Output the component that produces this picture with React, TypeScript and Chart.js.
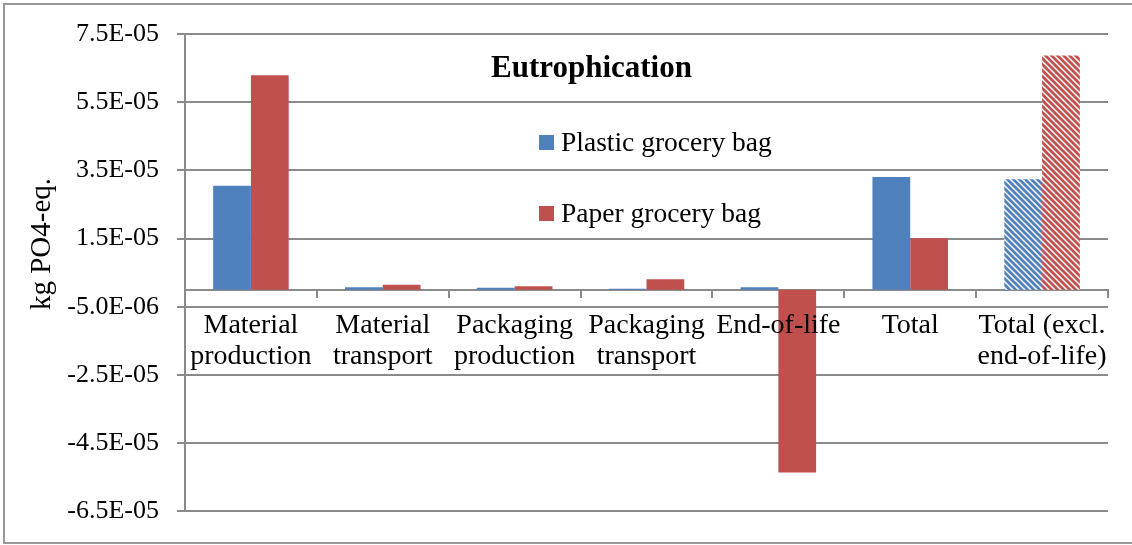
import React, { useEffect, useRef } from 'react';
import { Chart, registerables } from 'chart.js';

Chart.register(...registerables);

// ---- data ----
const categories: string[][] = [
  ['Material', 'production'],
  ['Material', 'transport'],
  ['Packaging', 'production'],
  ['Packaging', 'transport'],
  ['End-of-life'],
  ['Total'],
  ['Total (excl.', 'end-of-life)'],
];
const seriesNames: string[] = ['Plastic grocery bag', 'Paper grocery bag'];
const plasticValues: number[] = [3.05e-5, 7.5e-7, 5.5e-7, 3e-7, 7.5e-7, 3.31e-5, 3.24e-5];
const paperValues: number[] = [6.29e-5, 1.5e-6, 1.05e-6, 3.1e-6, -5.36e-5, 1.51e-5, 6.87e-5];
const yTickValues: number[] = [-6.5e-5, -4.5e-5, -2.5e-5, -5e-6, 1.5e-5, 3.5e-5, 5.5e-5, 7.5e-5];
const yTickLabels: string[] = ['-6.5E-05', '-4.5E-05', '-2.5E-05', '-5.0E-06', '1.5E-05', '3.5E-05', '5.5E-05', '7.5E-05'];
const chartTitle = 'Eutrophication';
const yAxisTitle = 'kg PO4-eq.';
const hatchedFlags: boolean[] = [false, false, false, false, false, false, true];

// ---- style ----
const FONT = "'Liberation Serif', 'Times New Roman', serif";
const BLUE = '#4F81BD';
const RED = '#C0504D';
const GRID = '#8a8a8a';
const seriesColors = [BLUE, RED];

function makeHatch(color: string): CanvasPattern | string {
  const size = 12;
  const c = document.createElement('canvas');
  c.width = size;
  c.height = size;
  const ctx = c.getContext('2d');
  if (!ctx) return color;
  ctx.fillStyle = '#ffffff';
  ctx.fillRect(0, 0, size, size);
  ctx.strokeStyle = color;
  ctx.lineWidth = 2.7;
  ctx.beginPath();
  for (let k = -3; k <= 3; k++) {
    const off = (k * size) / 2;
    ctx.moveTo(off - 2, -2);
    ctx.lineTo(off + size + 2, size + 2);
  }
  ctx.stroke();
  return ctx.createPattern(c, 'repeat') ?? color;
}

export default function App() {
  const canvasRef = useRef<HTMLCanvasElement | null>(null);

  useEffect(() => {
    const canvas = canvasRef.current;
    if (!canvas) return;
    const bgFor = (color: string) => {
      const hatch = makeHatch(color);
      return hatchedFlags.map((h) => (h ? hatch : color));
    };
    const chart = new Chart(canvas, {
      type: 'bar',
      data: {
        labels: categories,
        datasets: [
          {
            label: seriesNames[0],
            data: plasticValues,
            backgroundColor: bgFor(BLUE) as any,
            borderWidth: 0,
            categoryPercentage: 0.573,
            barPercentage: 1,
          },
          {
            label: seriesNames[1],
            data: paperValues,
            backgroundColor: bgFor(RED) as any,
            borderWidth: 0,
            categoryPercentage: 0.573,
            barPercentage: 1,
          },
        ],
      },
      options: {
        responsive: false,
        animation: false,
        devicePixelRatio: 1,
        layout: { padding: { top: 34, right: 24, bottom: 32, left: 0 } },
        plugins: {
          legend: { display: false },
          title: { display: false },
          tooltip: { enabled: false },
        },
        scales: {
          x: {
            type: 'category',
            position: { y: 0 } as any,
            offset: true,
            grid: {
              offset: true,
              drawOnChartArea: false,
              drawTicks: true,
              tickLength: 7,
              color: GRID,
              lineWidth: 2,
            },
            border: { display: true, color: GRID, width: 2 },
            ticks: {
              autoSkip: false,
              maxRotation: 0,
              minRotation: 0,
              padding: 13,
              color: '#000',
              z: 1,
              font: { family: FONT, size: 28, lineHeight: 1.11 },
            },
          },
          y: {
            type: 'linear',
            min: -6.5e-5,
            max: 7.5e-5,
            afterBuildTicks: (axis: any) => {
              axis.ticks = yTickValues.map((v) => ({ value: v }));
            },
            afterFit: (axis: any) => {
              axis.width = 185;
            },
            grid: {
              color: GRID,
              lineWidth: 2,
              tickLength: 8,
              drawTicks: true,
            },
            border: { display: true, color: GRID, width: 2 },
            ticks: {
              padding: 18,
              color: '#000',
              font: { family: FONT, size: 26 },
              callback: (_v: any, i: number) => yTickLabels[i],
            },
          },
        },
      },
    });
    return () => chart.destroy();
  }, []);

  return (
    <div
      style={{
        position: 'fixed',
        left: 0,
        top: 0,
        width: 1132,
        height: 545,
        background: '#fff',
        overflow: 'hidden',
        fontFamily: FONT,
        color: '#000',
      }}
    >
      <canvas
        ref={canvasRef}
        width={1132}
        height={545}
        style={{ position: 'absolute', left: 0, top: 0, display: 'block' }}
      />
      <div
        style={{
          position: 'absolute',
          left: 3,
          top: 3,
          width: 1150,
          height: 541,
          boxSizing: 'border-box',
          border: '2px solid #999',
          pointerEvents: 'none',
        }}
      />
      <div
        style={{
          position: 'absolute',
          left: 491,
          top: 51,
          fontSize: 31,
          lineHeight: '31px',
          fontWeight: 'bold',
          whiteSpace: 'nowrap',
        }}
      >
        {chartTitle}
      </div>
      {seriesNames.map((name, i) => (
        <div
          key={name}
          style={{
            position: 'absolute',
            left: 539,
            top: i === 0 ? 128 : 199,
            height: 28,
            display: 'flex',
            alignItems: 'flex-start',
            whiteSpace: 'nowrap',
          }}
        >
          <div
            style={{
              width: 15,
              height: 15,
              marginTop: 7,
              background: seriesColors[i],
              marginRight: 7,
            }}
          />
          <div style={{ fontSize: 27.5, lineHeight: '28px' }}>{name}</div>
        </div>
      ))}
      <div
        style={{
          position: 'absolute',
          left: 40,
          top: 244,
          transform: 'translate(-50%, -50%) rotate(-90deg)',
          fontSize: 29,
          lineHeight: '29px',
          whiteSpace: 'nowrap',
        }}
      >
        {yAxisTitle}
      </div>
    </div>
  );
}
